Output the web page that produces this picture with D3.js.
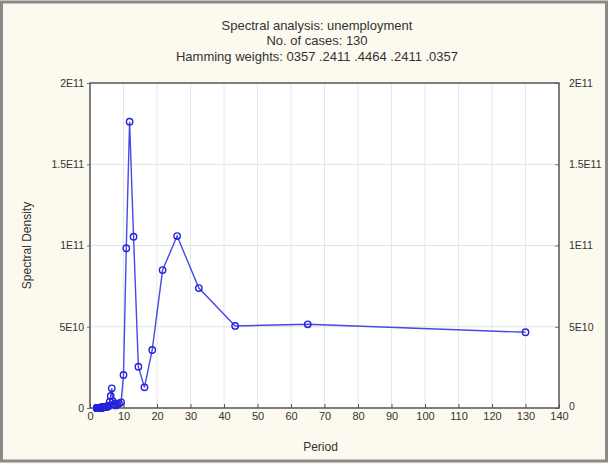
<!DOCTYPE html>
<html>
<head>
<meta charset="utf-8">
<script src="https://cdn.jsdelivr.net/npm/d3@7"></script>
<style>
  html, body { margin: 0; padding: 0; background: #fcf9ee; }
  svg { display: block; font-family: "Liberation Sans", Arial, sans-serif; }
</style>
</head>
<body>
<div id="chart"></div>
<script>
// ----- Chart data (period = 130 / k, spectral density)
const titleLines = [
  "Spectral analysis: unemployment",
  "No. of cases: 130",
  "Hamming weights: 0357 .2411 .4464 .2411 .0357"
];

const periods = [
  130, 65, 43.33, 32.5, 26, 21.67, 18.57, 16.25, 14.44, 13,
  11.82, 10.83, 10, 9.29, 8.67, 8.13, 7.65, 7.22, 6.84, 6.5,
  6.19, 5.91, 5.65, 5.42, 5.2, 5, 4.81, 4.64, 4.48, 4.33,
  4.19, 4.06, 3.94, 3.82, 3.71, 3.61, 3.51, 3.42, 3.33, 3.25,
  3.17, 3.1, 3.02, 2.95, 2.89, 2.83, 2.77, 2.71, 2.65, 2.6,
  2.55, 2.5, 2.45, 2.41, 2.36, 2.32, 2.28, 2.24, 2.2, 2.17,
  2.13, 2.1, 2.06, 2.03, 2
];

const density = [
  4.66e10, 5.15e10, 5.05e10, 7.38e10, 1.058e11, 8.49e10, 3.57e10, 1.27e10, 2.54e10, 1.054e11,
  1.762e11, 9.83e10, 2.03e10, 3.5e9, 2.8e9, 2.2e9, 1.6e9, 2.5e9, 4.0e9, 1.21e10,
  7.4e9, 3.9e9, 1.5e9, 9e8, 1.2e9, 8e8, 6e8, 9e8, 7e8, 5e8,
  6e8, 4e8, 5e8, 3e8, 4e8, 3e8, 2e8, 3e8, 2e8, 2e8,
  1.5e8, 2e8, 1e8, 1.5e8, 1e8, 1.2e8, 1e8, 8e7, 1e8, 7e7,
  8e7, 6e7, 7e7, 5e7, 6e7, 5e7, 4e7, 5e7, 4e7, 3e7,
  4e7, 3e7, 3e7, 2e7, 2e7
];

const xTicks = [0, 10, 20, 30, 40, 50, 60, 70, 80, 90, 100, 110, 120, 130, 140];
const yTicks = [0, 5e10, 1e11, 1.5e11, 2e11];
const yTickLabels = ["0", "5E10", "1E11", "1.5E11", "2E11"];

const width = 608, height = 464;
const margin = { top: 83, right: 49, bottom: 56, left: 90 };

const svg = d3.select("#chart").append("svg")
  .attr("width", width)
  .attr("height", height);

// outer window frame
svg.append("rect")
  .attr("x", 1.5).attr("y", 2).attr("width", width - 3).attr("height", height - 5)
  .attr("fill", "#fcf9ee").attr("stroke", "#8a8a8a").attr("stroke-width", 3);

const x = d3.scaleLinear().domain([0, 140]).range([margin.left, width - margin.right]);
const y = d3.scaleLinear().domain([0, 2e11]).range([height - margin.bottom, margin.top]);

// plot area
svg.append("rect")
  .attr("x", margin.left).attr("y", margin.top)
  .attr("width", x(140) - x(0)).attr("height", y(0) - y(2e11))
  .attr("fill", "#ffffff");

// grid
svg.append("g").selectAll("line")
  .data(xTicks.slice(1, -1))
  .join("line")
    .attr("x1", d => x(d)).attr("x2", d => x(d))
    .attr("y1", y(0)).attr("y2", y(2e11))
    .attr("stroke", "#e8e8e8").attr("stroke-width", 1);

svg.append("g").selectAll("line")
  .data(yTicks.slice(1, -1))
  .join("line")
    .attr("x1", x(0)).attr("x2", x(140))
    .attr("y1", d => y(d)).attr("y2", d => y(d))
    .attr("stroke", "#e2e2e2").attr("stroke-width", 1);

// axes
const fmtY = d => yTickLabels[yTicks.indexOf(d)];

svg.append("g")
  .attr("transform", `translate(0,${y(0)})`)
  .call(d3.axisBottom(x).tickValues(xTicks).tickSize(-4).tickPadding(4))
  .call(g => g.select(".domain").remove())
  .call(g => g.selectAll(".tick line").attr("stroke", "#555"))
  .call(g => g.selectAll(".tick text").attr("font-size", 11).attr("fill", "#333"));

svg.append("g")
  .attr("transform", `translate(${x(0)},0)`)
  .call(d3.axisLeft(y).tickValues(yTicks).tickFormat(fmtY).tickSize(3).tickPadding(3))
  .call(g => g.select(".domain").remove())
  .call(g => g.selectAll(".tick line").attr("stroke", "#777"))
  .call(g => g.selectAll(".tick text").attr("font-size", 10.5).attr("fill", "#333"));

svg.append("g")
  .attr("transform", `translate(${x(140)},0)`)
  .call(d3.axisRight(y).tickValues(yTicks).tickFormat(fmtY).tickSize(-4).tickPadding(10))
  .call(g => g.select(".domain").remove())
  .call(g => g.selectAll(".tick line").attr("stroke", "#777"))
  .call(g => g.selectAll(".tick text").attr("font-size", 10.5).attr("fill", "#333"))
  .call(g => g.selectAll(".tick text").filter(d => d === 0).attr("dy", "0.1em"));

// plot frame
svg.append("rect")
  .attr("x", margin.left).attr("y", margin.top)
  .attr("width", x(140) - x(0)).attr("height", y(0) - y(2e11))
  .attr("fill", "none").attr("stroke", "#555").attr("stroke-width", 1.5);

// line + markers
const pts = periods.map((p, i) => ({ p, v: density[i] }));

svg.append("path")
  .datum(pts)
  .attr("fill", "none")
  .attr("stroke", "#4848e8")
  .attr("stroke-width", 1.4)
  .attr("d", d3.line().x(d => x(d.p)).y(d => y(d.v)));

svg.append("g").selectAll("circle")
  .data(pts)
  .join("circle")
    .attr("cx", d => x(d.p))
    .attr("cy", d => y(d.v))
    .attr("r", 3.2)
    .attr("fill", "none")
    .attr("stroke", "#2424d8")
    .attr("stroke-width", 1.4);

// titles
svg.append("g").selectAll("text")
  .data(titleLines)
  .join("text")
    .attr("x", 317)
    .attr("y", (d, i) => 29.5 + i * 15.5)
    .attr("text-anchor", "middle")
    .attr("font-size", 13)
    .attr("fill", "#333")
    .text(d => d);

// axis titles
svg.append("text")
  .attr("x", x(70) - 4).attr("y", 451)
  .attr("text-anchor", "middle")
  .attr("font-size", 12).attr("fill", "#333")
  .text("Period");

svg.append("text")
  .attr("transform", `translate(31,${(y(0) + y(2e11)) / 2}) rotate(-90)`)
  .attr("text-anchor", "middle")
  .attr("font-size", 12).attr("fill", "#333")
  .text("Spectral Density");
</script>
</body>
</html>
